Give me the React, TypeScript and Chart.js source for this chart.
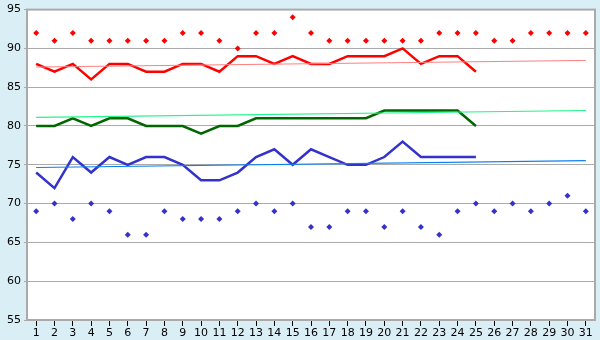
import React, { useEffect, useRef } from "react";
import { Chart, registerables } from "chart.js";

Chart.register(...registerables);

const days = Array.from({ length: 31 }, (_, i) => String(i + 1));

const highPoints = [92, 91, 92, 91, 91, 91, 91, 91, 92, 92, 91, 90, 92, 92, 94, 92, 91, 91, 91, 91, 91, 91, 92, 92, 92, 91, 91, 92, 92, 92, 92];
const redLine = [88, 87, 88, 86, 88, 88, 87, 87, 88, 88, 87, 89, 89, 88, 89, 88, 88, 89, 89, 89, 90, 88, 89, 89, 87];
const greenLine = [80, 80, 81, 80, 81, 81, 80, 80, 80, 79, 80, 80, 81, 81, 81, 81, 81, 81, 81, 82, 82, 82, 82, 82, 80];
const blueLine = [74, 72, 76, 74, 76, 75, 76, 76, 75, 73, 73, 74, 76, 77, 75, 77, 76, 75, 75, 76, 78, 76, 76, 76, 76];
const lowPoints = [69, 70, 68, 70, 69, 66, 66, 69, 68, 68, 68, 69, 70, 69, 70, 67, 67, 69, 69, 67, 69, 67, 66, 69, 70, 69, 70, 69, 70, 71, 69];

// trend line endpoints (day 1, day 31)
const redTrend = [87.6, 88.45];
const greenTrend = [81.1, 82.0];
const blueTrend = [74.65, 75.55];

const yTicks = [55, 60, 65, 70, 75, 80, 85, 90, 95];

function endpoints(pair: number[]) {
  const arr: (number | null)[] = days.map(() => null);
  arr[0] = pair[0];
  arr[days.length - 1] = pair[1];
  return arr;
}

const bgPlugin = {
  id: "bgPlugin",
  beforeDraw(chart: any) {
    const { ctx, chartArea } = chart;
    ctx.save();
    ctx.fillStyle = "#daeef6";
    ctx.fillRect(0, 0, chart.width, chart.height);
    ctx.fillStyle = "#ffffff";
    ctx.fillRect(chartArea.left, chartArea.top, chartArea.right - chartArea.left, chartArea.bottom - chartArea.top);
    ctx.restore();
  },
  afterDatasetsDraw(chart: any) {
    const { ctx, chartArea } = chart;
    ctx.save();
    ctx.strokeStyle = "#aaaaaa";
    ctx.lineWidth = 2;
    ctx.strokeRect(chartArea.left, chartArea.top, chartArea.right - chartArea.left, chartArea.bottom - chartArea.top);
    ctx.restore();
  },
};

export default function App() {
  const ref = useRef<HTMLCanvasElement>(null);
  useEffect(() => {
    document.body.style.margin = "0";
    const font = { family: "DejaVu Sans", size: 11 };
    const chart = new Chart(ref.current!, {
      type: "line",
      data: {
        labels: days,
        datasets: [
          { data: highPoints, showLine: false, pointStyle: "rectRot", pointRadius: 3, backgroundColor: "#ff0000", borderColor: "#ff0000", borderWidth: 0 },
          { data: endpoints(redTrend), spanGaps: true, borderColor: "#ff8080", borderWidth: 1, pointRadius: 0 },
          { data: redLine, borderColor: "#ff0000", borderWidth: 2.5, pointRadius: 0 },
          { data: endpoints(greenTrend), spanGaps: true, borderColor: "#22f58a", borderWidth: 1.2, pointRadius: 0 },
          { data: greenLine, borderColor: "#006600", borderWidth: 2.5, pointRadius: 0 },
          { data: endpoints(blueTrend), spanGaps: true, borderColor: "#0a80f0", borderWidth: 1.2, pointRadius: 0 },
          { data: blueLine, borderColor: "#3333cc", borderWidth: 2.5, pointRadius: 0 },
          { data: lowPoints, showLine: false, pointStyle: "rectRot", pointRadius: 3, backgroundColor: "#3333cc", borderColor: "#3333cc", borderWidth: 0 },
        ],
      },
      options: {
        responsive: false,
        animation: false,
        layout: { padding: { top: 5, right: 5, left: 0, bottom: 0 } },
        plugins: { legend: { display: false }, tooltip: { enabled: false } },
        elements: { line: { tension: 0 } },
        scales: {
          x: {
            offset: true,
            grid: { drawOnChartArea: false, drawTicks: true, tickLength: 6, color: "#000000", offset: false },
            border: { display: false },
            ticks: { font, color: "#000000", padding: 1, maxRotation: 0, autoSkip: false },
            afterFit: (s: any) => { s.height = 20; },
          },
          y: {
            min: 55,
            max: 95,
            afterBuildTicks: (s: any) => { s.ticks = yTicks.map((v) => ({ value: v })); },
            grid: { color: "#aaaaaa", lineWidth: 1, tickLength: 3 },
            border: { display: false },
            ticks: { font, color: "#000000", padding: 3 },
            afterFit: (s: any) => { s.width = 27; },
          },
        },
      },
      plugins: [bgPlugin],
    });
    return () => chart.destroy();
  }, []);
  return <canvas ref={ref} width={600} height={340} style={{ display: "block" }} />;
}
